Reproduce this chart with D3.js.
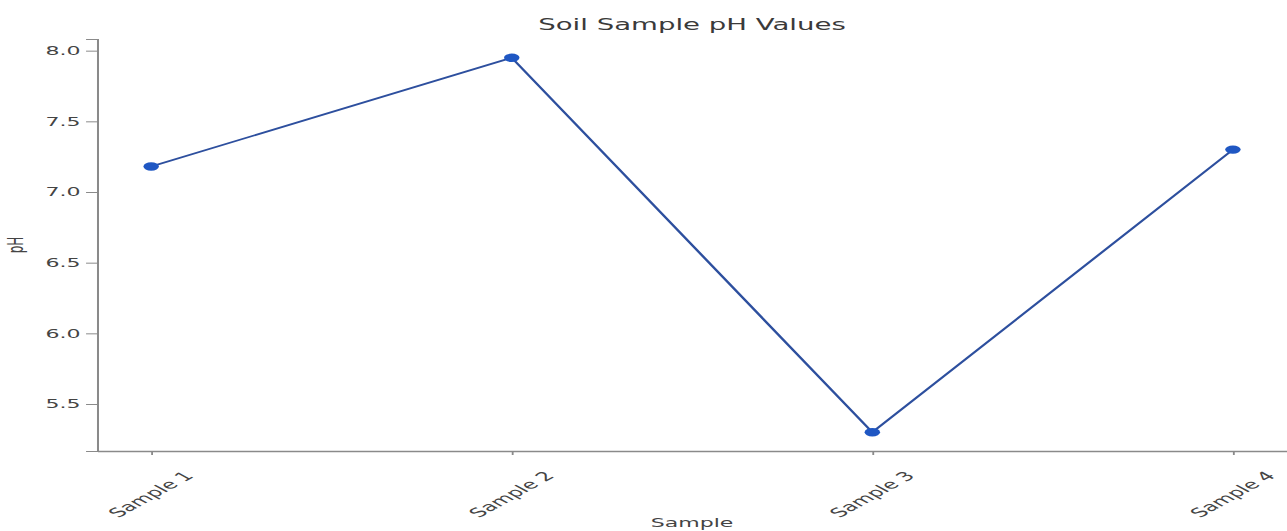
<!DOCTYPE html>
<html>
<head>
<meta charset="utf-8">
<script src="https://cdn.jsdelivr.net/npm/d3@7"></script>
<style>
  html, body { margin: 0; padding: 0; background: #fff; }
  svg { display: block; }
  text { font-family: "DejaVu Sans", sans-serif; }
</style>
</head>
<body>
<div id="chart"></div>
<script>
// ---- data ----
const categories = ["Sample 1", "Sample 2", "Sample 3", "Sample 4"];
const phValues = [7.18, 7.95, 5.30, 7.30];
const yTicks = [5.5, 6.0, 6.5, 7.0, 7.5, 8.0];
const titleText = "Soil Sample pH Values";
const xTitle = "Sample";
const yTitle = "pH";

// ---- layout (drawn in a 700-wide space, stretched to the 1287px window) ----
const outerW = 1287, outerH = 531;
const W = 700, H = 531;
const margin = { top: 39, right: 0, bottom: 80, left: 52.8 };

const svg = d3.select("#chart").append("svg")
  .attr("width", outerW).attr("height", outerH)
  .attr("viewBox", `0 0 ${W} ${H}`)
  .attr("preserveAspectRatio", "none");

const x = d3.scalePoint()
  .domain(categories)
  .range([margin.left, W - margin.right])
  .padding(0.15);

const [lo, hi] = d3.extent(phValues);
const pad = (hi - lo) * 0.05;
const y = d3.scaleLinear()
  .domain([lo - pad, hi + pad])
  .range([H - margin.bottom, margin.top]);

const axisColor = "#8a8a8a";
const textColor = "#444";

// y axis
const gy = svg.append("g")
  .attr("transform", `translate(${margin.left},0)`)
  .call(d3.axisLeft(y).tickValues(yTicks).tickFormat(d3.format(".1f")).tickSize(6).tickPadding(3));
gy.select(".domain").attr("stroke", axisColor).attr("stroke-width", 1.1);
gy.selectAll(".tick line").attr("stroke", axisColor);
gy.selectAll(".tick text").attr("fill", textColor).attr("font-size", 12)
  .attr("font-family", "DejaVu Sans, sans-serif");

// x axis
const gx = svg.append("g")
  .attr("transform", `translate(0,${H - margin.bottom})`)
  .call(d3.axisBottom(x).tickSize(4).tickSizeOuter(0));
gx.select(".domain").attr("stroke", axisColor).attr("stroke-width", 1.4);
gx.selectAll(".tick line").attr("stroke", axisColor);
gx.selectAll(".tick text")
  .attr("fill", textColor).attr("font-size", 12.5)
  .attr("font-family", "DejaVu Sans, sans-serif")
  .attr("text-anchor", "middle")
  .attr("dy", null).attr("y", 0)
  .attr("transform", "translate(0,44) rotate(-45)")
  .attr("dominant-baseline", "middle");

// line
const line = d3.line()
  .x((d, i) => x(categories[i]))
  .y(d => y(d));

svg.append("path")
  .datum(phValues)
  .attr("fill", "none")
  .attr("stroke", "#2d4f9e")
  .attr("stroke-width", 1.6)
  .attr("d", line);

svg.append("g").selectAll("circle")
  .data(phValues)
  .join("circle")
  .attr("cx", (d, i) => x(categories[i]))
  .attr("cy", d => y(d))
  .attr("r", 4.2)
  .attr("fill", "#1f57c3");

// titles
svg.append("text")
  .attr("x", (margin.left + W - margin.right) / 2)
  .attr("y", 30)
  .attr("text-anchor", "middle")
  .attr("font-size", 15)
  .attr("fill", "#3a3a3a")
  .text(titleText);

svg.append("text")
  .attr("x", (margin.left + W - margin.right) / 2)
  .attr("y", 527)
  .attr("text-anchor", "middle")
  .attr("font-size", 12)
  .attr("fill", textColor)
  .text(xTitle);

svg.append("text")
  .attr("transform", `translate(12.7,${(margin.top + H - margin.bottom) / 2}) rotate(-90)`)
  .attr("text-anchor", "middle")
  .attr("font-size", 12)
  .attr("fill", textColor)
  .text(yTitle);
</script>
</body>
</html>
